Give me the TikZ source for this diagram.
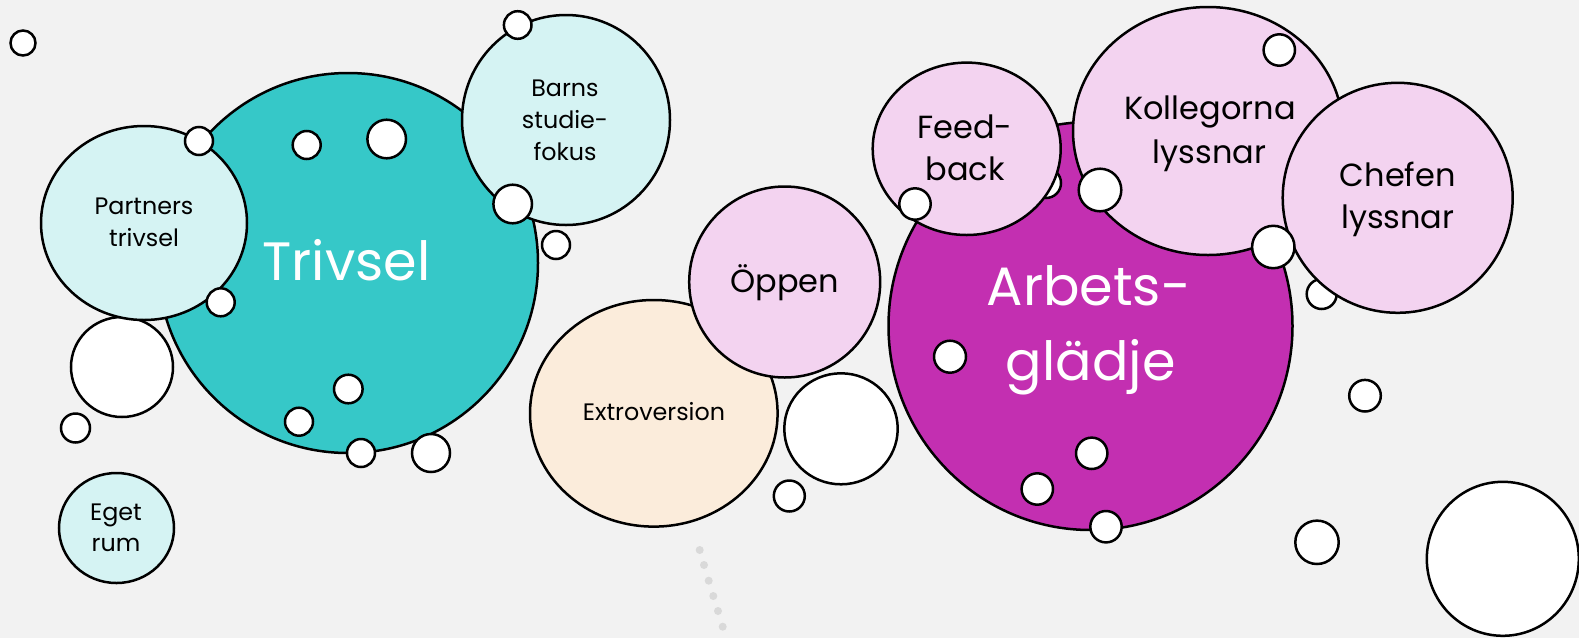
\documentclass[tikz,border=0pt]{standalone}
\usepackage{fontspec}
\setmainfont{Poppins}
\definecolor{bg}{HTML}{F2F2F2}
\definecolor{teal}{HTML}{36C8C8}
\definecolor{lteal}{HTML}{D5F3F3}
\definecolor{magen}{HTML}{C32FB1}
\definecolor{lpink}{HTML}{F3D3F0}
\definecolor{cream}{HTML}{FBECDB}
\definecolor{dotgray}{HTML}{D9D9D9}
\tikzset{
  bub/.style={draw=black, line width=2.5pt},
  wbub/.style={bub, fill=white},
  bigtxt/.style={font=\fontsize{54}{60}\selectfont, text=white, anchor=base, inner sep=0pt},
  midtxt/.style={font=\fontsize{32}{36}\selectfont, text=black, anchor=base, inner sep=0pt},
  smltxt/.style={font=\fontsize{23.8}{27}\selectfont, text=black, anchor=base, inner sep=0pt},
  dotc/.style={fill=dotgray, draw=none}
}
\begin{document}
\begin{tikzpicture}[x=1pt,y=-1pt]
\useasboundingbox (0,0) rectangle (1579,638);
\fill[bg] (0,0) rectangle (1579,638);
% dotted trail
\foreach \px/\py in {699.7/550,704/565,708.7/580.7,713.3/596,718/611,722.7/626.7}
  \fill[dotc] (\px,\py) circle[radius=4pt];
% free white bubbles (left)
\filldraw[wbub] (23,43) circle[radius=12.5pt];
\filldraw[wbub] (122,367) ellipse[x radius=51pt, y radius=50pt];
\filldraw[wbub] (75.5,428) circle[radius=14.5pt];
% Trivsel group
\filldraw[bub, fill=teal] (348,263) circle[radius=190pt];
\filldraw[bub, fill=lteal] (144,223) ellipse[x radius=103pt, y radius=97pt];
\filldraw[bub, fill=lteal] (566,120) ellipse[x radius=104pt, y radius=105pt];
\filldraw[wbub] (199,141) circle[radius=14pt];
\filldraw[wbub] (306.7,145) circle[radius=14pt];
\filldraw[wbub] (386.7,139) circle[radius=19.3pt];
\filldraw[wbub] (512.7,204) circle[radius=19.3pt];
\filldraw[wbub] (517.7,25) circle[radius=13.8pt];
\filldraw[wbub] (556,245) circle[radius=14pt];
\filldraw[wbub] (220.7,302.3) circle[radius=14pt];
\filldraw[wbub] (348.3,389) circle[radius=14.3pt];
\filldraw[wbub] (299,421.7) circle[radius=14pt];
\filldraw[wbub] (361,453) circle[radius=14pt];
\filldraw[wbub] (431,453) circle[radius=19pt];
% Eget rum
\filldraw[bub, fill=lteal] (116.5,528) ellipse[x radius=57.5pt, y radius=55pt];
% Extroversion / Oppen
\filldraw[bub, fill=cream] (653.8,413.3) ellipse[x radius=123.8pt, y radius=113.3pt];
\filldraw[bub, fill=lpink] (784.7,282) circle[radius=95.5pt];
\filldraw[wbub] (841,428.8) ellipse[x radius=56.7pt, y radius=55.5pt];
\filldraw[wbub] (789.3,496) circle[radius=15.5pt];
% Arbetsgladje group
\filldraw[bub, fill=magen] (1090.5,326) ellipse[x radius=202pt, y radius=204pt];
\filldraw[wbub] (1046,183) circle[radius=15pt];
\filldraw[bub, fill=lpink] (966.7,148.8) ellipse[x radius=94pt, y radius=86.2pt];
\filldraw[bub, fill=lpink] (1208,131) ellipse[x radius=135pt, y radius=124pt];
\filldraw[wbub] (1321.7,294) circle[radius=15pt];
\filldraw[bub, fill=lpink] (1397.7,197.8) circle[radius=115pt];
\filldraw[wbub] (915,204) circle[radius=15.7pt];
\filldraw[wbub] (1100,190) circle[radius=21.3pt];
\filldraw[wbub] (1273.3,247) circle[radius=21.2pt];
\filldraw[wbub] (1279.3,50) circle[radius=15.7pt];
\filldraw[wbub] (950,356.7) circle[radius=16pt];
\filldraw[wbub] (1091.7,453.3) circle[radius=15.7pt];
\filldraw[wbub] (1037.3,489) circle[radius=15.7pt];
\filldraw[wbub] (1106,526.7) circle[radius=15.7pt];
% free white bubbles (right)
\filldraw[wbub] (1365,395.7) circle[radius=15.8pt];
\filldraw[wbub] (1317,542.3) circle[radius=21.7pt];
\filldraw[wbub] (1502.8,558.8) ellipse[x radius=76pt, y radius=77pt];
% labels
\node[bigtxt] (trivsel) at (346.5,280) {Trivsel};
\node[bigtxt] (arbets) at (1088.7,305.7) {Arbets-};
\node[bigtxt] (gladje) at (1090.7,380) {glädje};
\node[smltxt] (partners1) at (144,214) {Partners};
\node[smltxt] (partners2) at (144,246.5) {trivsel};
\node[smltxt] (barns1) at (565,96.7) {Barns};
\node[smltxt] (barns2) at (565,128.3) {studie-};
\node[smltxt] (barns3) at (565,160) {fokus};
\node[smltxt] (eget1) at (116,520) {Eget};
\node[smltxt] (eget2) at (116,551.7) {rum};
\node[smltxt] (extro) at (654,420.7) {Extroversion};
\node[midtxt] (oppen) at (784.7,292.7) {Öppen};
\node[midtxt] (feed1) at (965,138.3) {Feed-};
\node[midtxt] (feed2) at (965,180) {back};
\node[midtxt] (koll1) at (1210,119.3) {Kollegorna};
\node[midtxt] (koll2) at (1209.5,163.3) {lyssnar};
\node[midtxt] (chef1) at (1397.8,186.7) {Chefen};
\node[midtxt] (chef2) at (1397.8,228.3) {lyssnar};
\end{tikzpicture}
\end{document}
